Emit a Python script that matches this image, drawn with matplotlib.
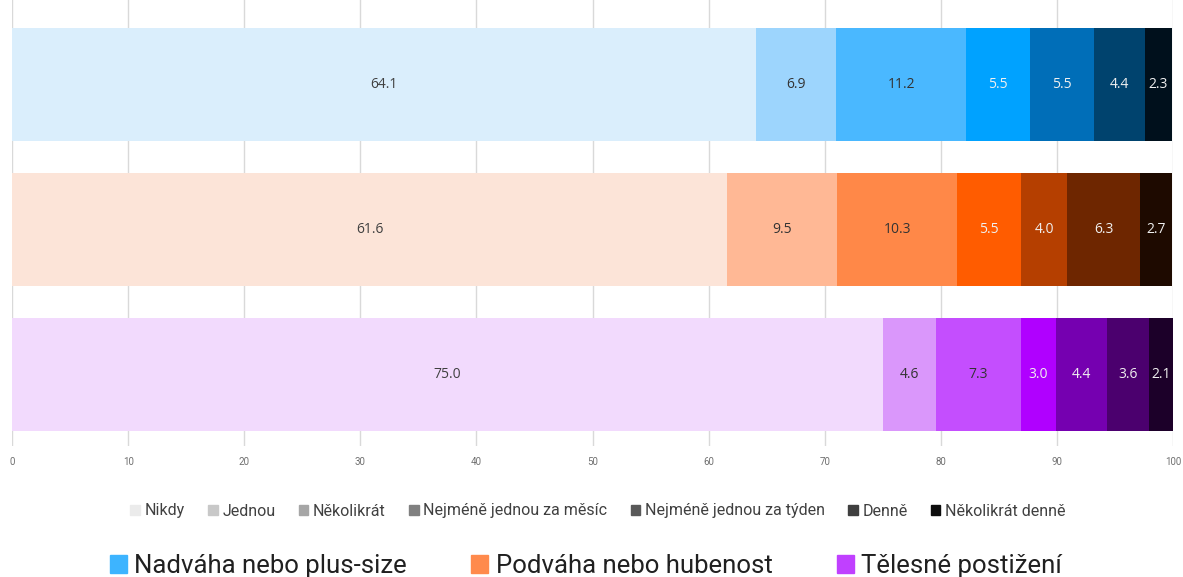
import matplotlib.pyplot as plt
from matplotlib.patches import Patch
import numpy as np

plt.rcParams['font.family'] = ['Roboto', 'DejaVu Sans']

groups = ["Nadváha nebo plus-size", "Podváha nebo hubenost", "Tělesné postižení"]
frequencies = ["Nikdy", "Jednou", "Několikrát", "Nejméně jednou za měsíc",
               "Nejméně jednou za týden", "Denně", "Několikrát denně"]

# one list per group, in the order of frequencies
nadvaha = [64.1, 6.9, 11.2, 5.5, 5.5, 4.4, 2.3]
podvaha = [61.6, 9.5, 10.3, 5.5, 4.0, 6.3, 2.7]
postizeni = [75.0, 4.6, 7.3, 3.0, 4.4, 3.6, 2.1]
values = [nadvaha, podvaha, postizeni]

blues = ["#DAEEFC", "#9DD5FD", "#4AB8FF", "#00A2FF", "#006EB8", "#00436E", "#00101C"]
oranges = ["#FCE4D8", "#FFB895", "#FF8848", "#FF5C00", "#B53F00", "#6E2600", "#1E0A00"]
purples = ["#F2DAFD", "#DA97FB", "#C44EFE", "#B000FF", "#7500B0", "#4B006E", "#1C0029"]
palettes = [blues, oranges, purples]
grays = ["#EBEBEB", "#C8C8C8", "#A6A6A6", "#808080", "#595959", "#3F3F3F", "#0D0D0D"]
group_colors = ["#3DB4FF", "#FF8A4C", "#C040FF"]

fig = plt.figure(figsize=(11.83, 5.77), dpi=100)
ax = fig.add_axes([12 / 1183, 1 - 446 / 577, (1173 - 12) / 1183, 446 / 577])

for i, (vals, cols) in enumerate(zip(values, palettes)):
    left = 0.0
    for j, v in enumerate(vals):
        ax.barh(i, v, left=left, height=0.78, color=cols[j], zorder=2)
        tc = "#333333" if j < 3 else "#F0F0F0"
        if j == 0:
            tc = "#404040"
        ax.text(left + v / 2, i, f"{v:.1f}", ha="center", va="center",
                fontsize=10, color=tc, family=["Open Sans", "DejaVu Sans"], zorder=3)
        left += v

ax.set_xlim(0, 100)
ax.set_ylim(2.493, -0.583)
ax.set_xticks(np.arange(0, 101, 10))
ax.set_yticks([])
ax.grid(axis="x", color="#D9D9D9", linewidth=1, zorder=0)
for s in ax.spines.values():
    s.set_visible(False)
ax.tick_params(axis="x", length=0, labelsize=7, labelcolor="#707070", pad=8)

h1 = [Patch(color=c) for c in grays]
fig.legend(h1, frequencies, loc="center", bbox_to_anchor=(598 / 1183, 1 - 511 / 577),
           ncol=7, frameon=False, fontsize=11.5, handlelength=0.6, handleheight=0.6,
           handletextpad=0.3, columnspacing=1.45, labelcolor="#404040")

h2 = [Patch(color=c) for c in group_colors]
fig.legend(h2, groups, loc="center", bbox_to_anchor=(586 / 1183, 1 - 566 / 577),
           ncol=3, frameon=False, fontsize=18.5, handlelength=0.65, handleheight=0.65,
           handletextpad=0.3, columnspacing=2.5, labelcolor="#202020")

fig.savefig("out.png", dpi=100)
